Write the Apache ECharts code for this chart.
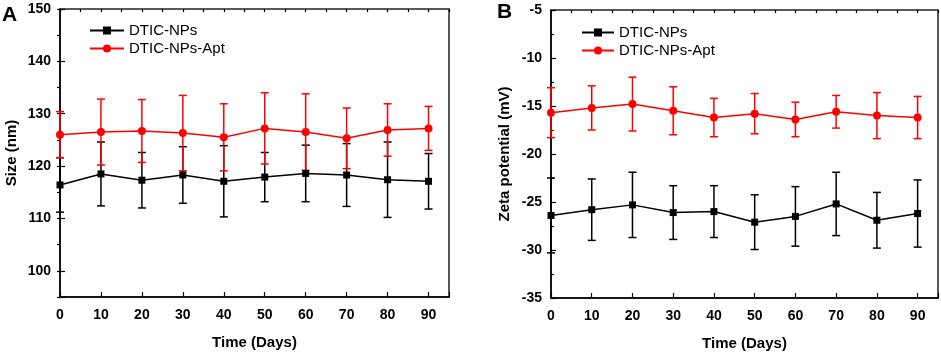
<!DOCTYPE html>
<html>
<head>
<meta charset="utf-8">
<script src="https://cdn.jsdelivr.net/npm/echarts@6/dist/echarts.min.js"></script>
<style>
  html, body { margin: 0; padding: 0; background: #fff; }
  #chart { width: 941px; height: 352px; }
</style>
</head>
<body>
<div id="chart"></div>
<script>
// values
var days = [0, 10, 20, 30, 40, 50, 60, 70, 80, 90];
var sizeNps = [116.4, 118.5, 117.3, 118.3, 117.1, 117.9, 118.6, 118.3, 117.4, 117.1];
var sizeNpsSd = [5.2, 6.1, 5.3, 5.4, 6.8, 4.7, 5.4, 6.0, 7.2, 5.3];
var sizeApt = [126.0, 126.5, 126.7, 126.3, 125.5, 127.2, 126.5, 125.3, 126.9, 127.2];
var sizeAptSd = [4.4, 6.3, 6.0, 7.2, 6.4, 6.8, 7.3, 5.8, 5.0, 4.2];
var zetaNps = [-26.4, -25.8, -25.3, -26.1, -26.0, -27.1, -26.5, -25.2, -26.9, -26.2];
var zetaNpsSd = [3.9, 3.2, 3.4, 2.8, 2.7, 2.85, 3.1, 3.3, 2.9, 3.5];
var zetaApt = [-15.7, -15.2, -14.8, -15.5, -16.2, -15.8, -16.4, -15.6, -16.0, -16.2];
var zetaAptSd = [2.6, 2.3, 2.8, 2.5, 2.0, 2.1, 1.8, 1.7, 2.4, 2.2];

var FONT = 'Arial, "Liberation Sans", sans-serif';
var BLACK = '#000000', RED = '#ff0000';

function pairs(ys) {
  return days.map(function (d, i) { return [d, ys[i]]; });
}
function errData(ys, sd) {
  return days.map(function (d, i) { return [d, ys[i], sd[i]]; });
}

function errorSeries(name, ys, sd, color, xi, yi) {
  return {
    name: name + ' error',
    type: 'custom',
    xAxisIndex: xi,
    yAxisIndex: yi,
    data: errData(ys, sd),
    z: 3,
    renderItem: function (params, api) {
      var x = api.value(0), m = api.value(1), s = api.value(2);
      var hi = api.coord([x, m + s]);
      var lo = api.coord([x, m - s]);
      var w = 4;
      var st = { stroke: color, lineWidth: 1.5 };
      return {
        type: 'group',
        children: [
          { type: 'line', shape: { x1: hi[0], y1: hi[1], x2: lo[0], y2: lo[1] }, style: st },
          { type: 'line', shape: { x1: hi[0] - w, y1: hi[1], x2: hi[0] + w, y2: hi[1] }, style: st },
          { type: 'line', shape: { x1: lo[0] - w, y1: lo[1], x2: lo[0] + w, y2: lo[1] }, style: st }
        ]
      };
    }
  };
}

function lineSeries(name, ys, color, symbol, size, xi, yi) {
  return {
    name: name,
    type: 'line',
    xAxisIndex: xi,
    yAxisIndex: yi,
    data: pairs(ys),
    symbol: symbol,
    symbolSize: size,
    showAllSymbol: true,
    z: 4,
    lineStyle: { color: color, width: 1.5 },
    itemStyle: { color: color }
  };
}

var nameSt = { color: BLACK, fontFamily: FONT, fontWeight: 'bold', fontSize: 15 };
var axLine = { show: true, lineStyle: { color: BLACK, width: 1.5 } };

function xMajor(gi) {
  return {
    type: 'value', gridIndex: gi, min: 0, max: 95, interval: 10,
    name: 'Time (Days)', nameLocation: 'middle', nameGap: 38, nameTextStyle: nameSt,
    axisLine: axLine,
    axisTick: { inside: true, length: 5, lineStyle: { color: BLACK, width: 1.2 } },
    axisLabel: { margin: 11, color: BLACK, fontFamily: FONT, fontWeight: 'bold', fontSize: 14,
      formatter: function (v) { return v % 10 === 0 && v <= 90 ? String(v) : ''; } },
    splitLine: { show: false }
  };
}
function xMinor(gi) {
  return {
    type: 'value', gridIndex: gi, min: 0, max: 95, interval: 5,
    axisLine: { show: false },
    axisTick: { inside: true, length: 3, lineStyle: { color: BLACK, width: 1.2 } },
    axisLabel: { show: false },
    splitLine: { show: false }
  };
}

var legendItems = [
  { name: 'DTIC-NPs' },
  { name: 'DTIC-NPs-Apt' }
];

var option = {
  backgroundColor: '#ffffff',
  animation: false,
  textStyle: { fontFamily: FONT },
  grid: [
    { left: 60, top: 9, width: 389, height: 288, outerBoundsMode: 'none', show: true, borderColor: '#222', borderWidth: 1.5, backgroundColor: 'transparent' },
    { left: 551, top: 10, width: 387, height: 288, outerBoundsMode: 'none', show: true, borderColor: '#222', borderWidth: 1.5, backgroundColor: 'transparent' }
  ],
  title: [
    { text: 'A', left: 2, top: 5, padding: 0, textStyle: { color: BLACK, fontFamily: FONT, fontWeight: 'bold', fontSize: 21 } },
    { text: 'B', left: 497, top: 2, padding: 0, textStyle: { color: BLACK, fontFamily: FONT, fontWeight: 'bold', fontSize: 21 } }
  ],
  legend: [
    {
      orient: 'vertical', left: 89, top: 23, padding: 0, itemWidth: 34, itemHeight: 10, itemGap: 3,
      textStyle: { color: BLACK, fontFamily: FONT, fontSize: 15 },
      data: legendItems
    },
    {
      orient: 'vertical', left: 581, top: 25, padding: 0, itemWidth: 32, itemHeight: 10, itemGap: 3,
      textStyle: { color: BLACK, fontFamily: FONT, fontSize: 15 },
      data: legendItems
    }
  ],
  xAxis: [xMajor(0), xMinor(0), xMajor(1), xMinor(1)],
  yAxis: [
    {
      type: 'value', gridIndex: 0, min: 95, max: 150, splitNumber: 5,
      name: 'Size (nm)', nameLocation: 'middle', nameGap: 41, nameTextStyle: nameSt,
      axisLine: axLine,
      axisTick: { inside: true, length: 5, lineStyle: { color: BLACK, width: 1.2 } },
      axisLabel: { margin: 9, color: BLACK, fontFamily: FONT, fontWeight: 'bold', fontSize: 14,
        formatter: function (v) { return v % 10 === 0 ? String(v) : ''; } },
      splitLine: { show: false }
    },
    {
      type: 'value', gridIndex: 0, min: 95, max: 150, interval: 5,
      axisLine: { show: false },
      axisTick: { inside: true, length: 3, lineStyle: { color: BLACK, width: 1.2 } },
      axisLabel: { show: false },
      splitLine: { show: false }
    },
    {
      type: 'value', gridIndex: 1, min: -35, max: -5, interval: 5,
      name: 'Zeta potential (mV)', nameLocation: 'middle', nameGap: 39, nameTextStyle: nameSt,
      axisLine: axLine,
      axisTick: { inside: true, length: 5, lineStyle: { color: BLACK, width: 1.2 } },
      minorTick: { show: true, splitNumber: 2, length: 3, lineStyle: { color: BLACK, width: 1.2 } },
      axisLabel: { margin: 9, color: BLACK, fontFamily: FONT, fontWeight: 'bold', fontSize: 14 },
      splitLine: { show: false }
    }
  ],
  series: [
    lineSeries('DTIC-NPs', sizeNps, BLACK, 'rect', 7, 0, 0),
    lineSeries('DTIC-NPs-Apt', sizeApt, RED, 'circle', 8, 0, 0),
    lineSeries('DTIC-NPs', zetaNps, BLACK, 'rect', 7, 2, 2),
    lineSeries('DTIC-NPs-Apt', zetaApt, RED, 'circle', 8, 2, 2),
    errorSeries('DTIC-NPs', sizeNps, sizeNpsSd, BLACK, 0, 0),
    errorSeries('DTIC-NPs-Apt', sizeApt, sizeAptSd, RED, 0, 0),
    errorSeries('DTIC-NPs', zetaNps, zetaNpsSd, BLACK, 2, 2),
    errorSeries('DTIC-NPs-Apt', zetaApt, zetaAptSd, RED, 2, 2)
  ]
};

var myChart = echarts.init(document.getElementById('chart'));
myChart.setOption(option);
</script>
</body>
</html>
